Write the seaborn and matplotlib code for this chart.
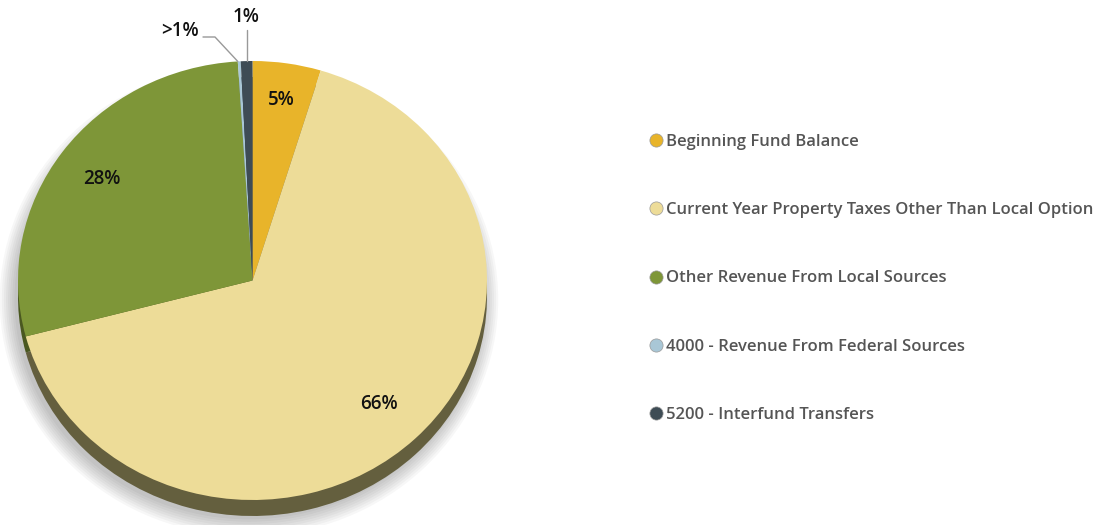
#!/usr/bin/env python3
import numpy as np
import seaborn as sns
from matplotlib import pyplot as plt
from matplotlib.lines import Line2D
from matplotlib.patches import Ellipse

sns.set_style('white')
plt.rcParams['font.family'] = ['Open Sans', 'DejaVu Sans']

categories = ['Beginning Fund Balance',
              'Current Year Property Taxes Other Than Local Option',
              'Other Revenue From Local Sources',
              '4000 - Revenue From Federal Sources',
              '5200 - Interfund Transfers']
shares = [4.7, 66.2, 28.1, 0.2, 0.8]
pct_labels = ['5%', '66%', '28%', '>1%', '1%']
colors = ['#E8B42A', '#EDDC98', '#7E9638', '#A9C7D6', '#3E4C55']
side_colors = ['#7a6322', '#645f3e', '#4a5820', '#6f8590', '#26313a']

W, H = 1102, 525
cx, cy, rx, ry = 252.5, 280.5, 234.5, 219.5   # pie geometry in pixels
depth = 16

fig = plt.figure(figsize=(W / 100, H / 100), dpi=100)
ax = fig.add_axes([0, 0, 1, 1])


def px(x, y):
    return (x - cx) / rx, (cy - y) / ry


# soft drop shadow
for i in range(8):
    e = Ellipse((-0.015, -depth / ry - 0.015), 2 + 0.018 * i, 2 + 0.022 * i,
                facecolor='#000000', alpha=0.03, edgecolor='none', zorder=0)
    ax.add_patch(e)

# extruded side of the pie
ax.pie(shares, colors=side_colors, startangle=90, counterclock=False,
       center=(0, -depth / ry), radius=1,
       wedgeprops=dict(linewidth=0), frame=True)
wedges, _ = ax.pie(shares, colors=colors, startangle=90, counterclock=False,
                   center=(0, 0), radius=1,
                   wedgeprops=dict(linewidth=0), frame=True)
ax.set_xlim(-cx / rx, (W - cx) / rx)
ax.set_ylim(-(H - cy) / ry, cy / ry)
ax.set_aspect('auto')
ax.axis('off')

lab_kw = dict(ha='center', va='center', fontsize=13.5, fontweight='semibold',
              color='#111111')

# percentage labels for the large slices
for w, lab, r in zip(wedges[:3], pct_labels[:3], [0.83, 0.78, 0.79]):
    ang = np.deg2rad((w.theta1 + w.theta2) / 2)
    ax.text(r * np.cos(ang), r * np.sin(ang), lab, **lab_kw)

# small slices with leader lines
w_fed, w_int = wedges[3], wedges[4]
a_fed = np.deg2rad(w_fed.theta2)
a_int = np.deg2rad((w_int.theta1 + w_int.theta2) / 2)
ex, ey = px(215, 37)
tx, _ = px(203, 37)
ax.plot([np.cos(a_fed), ex, tx], [np.sin(a_fed), ey, ey],
        color='#999999', lw=1)
ax.text(*px(180, 31), pct_labels[3], **lab_kw)
ax.plot([np.cos(a_int), np.cos(a_int)], [np.sin(a_int), px(0, 30)[1]],
        color='#999999', lw=1)
ax.text(*px(246, 17), pct_labels[4], **lab_kw)

handles = [Line2D([], [], marker='o', linestyle='none', markersize=9.5,
                  markerfacecolor=c, markeredgecolor='#999999',
                  markeredgewidth=0.5) for c in colors]
leg = fig.legend(handles, categories, loc='center left',
                 bbox_to_anchor=(651 / W, 1 - 278.5 / H), frameon=False,
                 fontsize=12, labelspacing=3.14, handlelength=0.6,
                 handletextpad=0.3, borderpad=0, borderaxespad=0)
for t in leg.get_texts():
    t.set_color('#555555')
    t.set_fontweight('semibold')

fig.savefig('out.png', dpi=100)
